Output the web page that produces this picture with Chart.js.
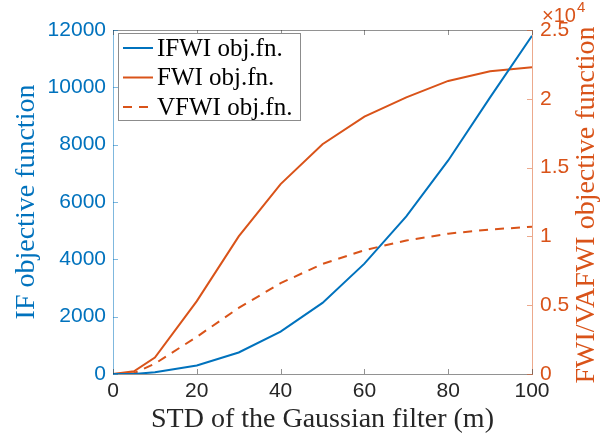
<!DOCTYPE html>
<html>
<head>
<meta charset="utf-8">
<script src="https://cdn.jsdelivr.net/npm/chart.js@4"></script>
<style>
  body { margin: 0; background: #fff; }
</style>
</head>
<body>
<canvas id="chart" width="600" height="445"></canvas>
<script>
// STD of the Gaussian filter (m)
const stdValues = [0, 5, 10, 20, 30, 40, 50, 60, 70, 80, 90, 100];
// IF objective function (left axis)
const ifwiValues = [0, 0, 60, 300, 750, 1480, 2480, 3850, 5500, 7450, 9650, 11800];
// FWI / VFWI objective function (right axis)
const fwiValues = [0, 200, 1200, 5300, 10000, 13800, 16700, 18700, 20100, 21300, 22000, 22300];
const vfwiValues = [0, 60, 750, 2700, 4800, 6600, 8000, 9000, 9700, 10200, 10500, 10700];

const blue = '#0072BD';
const orange = '#D95319';
const serif = '"Liberation Serif", "Times New Roman", serif';
const sans = '"Liberation Sans", Arial, sans-serif';
const titleSize = 28;

const toPoints = (ys) => ys.map((y, i) => ({ x: stdValues[i], y: y }));

// MATLAB style inward ticks + top box line
const insideTicks = {
  id: 'insideTicks',
  afterDatasetsDraw(chart) {
    const { ctx, chartArea: a, scales } = chart;
    const len = 5;
    ctx.save();
    ctx.lineWidth = 1;
    ctx.strokeStyle = 'rgba(38,38,38,0.5)';
    ctx.beginPath();
    ctx.moveTo(a.left, a.top + 0.5);
    ctx.lineTo(a.right, a.top + 0.5);
    scales.x.ticks.forEach(t => {
      const px = Math.round(scales.x.getPixelForValue(t.value)) + 0.5;
      ctx.moveTo(px, a.bottom);
      ctx.lineTo(px, a.bottom - len);
      ctx.moveTo(px, a.top);
      ctx.lineTo(px, a.top + len);
    });
    ctx.stroke();

    ctx.strokeStyle = 'rgba(0,114,189,0.5)';
    ctx.beginPath();
    scales.y.ticks.forEach(t => {
      const py = Math.round(scales.y.getPixelForValue(t.value)) + 0.5;
      ctx.moveTo(a.left, py);
      ctx.lineTo(a.left + len, py);
    });
    ctx.stroke();

    ctx.strokeStyle = 'rgba(217,83,25,0.5)';
    ctx.beginPath();
    scales.y1.ticks.forEach(t => {
      const py = Math.round(scales.y1.getPixelForValue(t.value)) + 0.5;
      ctx.moveTo(a.right, py);
      ctx.lineTo(a.right - len, py);
    });
    ctx.stroke();
    ctx.restore();
  }
};

// legend box inside the plot, top left
const innerLegend = {
  id: 'innerLegend',
  afterDraw(chart) {
    const { ctx, chartArea: a } = chart;
    const x0 = a.left + 5, y0 = a.top + 3, w = 182, h = 87;
    ctx.save();
    ctx.fillStyle = '#fff';
    ctx.fillRect(x0, y0, w, h);
    ctx.strokeStyle = '#8c8c8c';
    ctx.lineWidth = 1;
    ctx.strokeRect(x0 + 0.5, y0 + 0.5, w, h);
    ctx.font = '25px ' + serif;
    ctx.textBaseline = 'middle';
    chart.data.datasets.forEach((ds, i) => {
      const yy = y0 + 15 + i * 29.5;
      ctx.strokeStyle = ds.borderColor;
      ctx.lineWidth = 2;
      ctx.setLineDash(ds.borderDash || []);
      ctx.beginPath();
      ctx.moveTo(x0 + 5, yy);
      ctx.lineTo(x0 + 35, yy);
      ctx.stroke();
      ctx.setLineDash([]);
      ctx.fillStyle = '#000';
      ctx.fillText(ds.label, x0 + 39, yy + 1);
    });
    ctx.restore();
  }
};

// x10^4 multiplier and right axis title (reads bottom to top)
const rightAxisText = {
  id: 'rightAxisText',
  afterDraw(chart) {
    const { ctx, chartArea: a } = chart;
    ctx.save();
    ctx.fillStyle = orange;
    ctx.textBaseline = 'alphabetic';
    ctx.font = '20px ' + sans;
    ctx.fillText('\u00d710', a.right + 10, 22);
    const w = ctx.measureText('\u00d710').width;
    ctx.font = '15px ' + sans;
    ctx.fillText('4', a.right + 10 + w + 1, 12);

    ctx.translate(587, (a.top + a.bottom) / 2 + 3);
    ctx.rotate(-Math.PI / 2);
    ctx.textAlign = 'center';
    ctx.textBaseline = 'middle';
    ctx.font = titleSize + 'px ' + serif;
    ctx.fillText('FWI/VAFWI objective function', 0, 0);
    ctx.restore();
  }
};

new Chart(document.getElementById('chart'), {
  type: 'line',
  data: {
    datasets: [
      {
        label: 'IFWI obj.fn.',
        data: toPoints(ifwiValues),
        yAxisID: 'y',
        borderColor: blue,
        borderWidth: 2
      },
      {
        label: 'FWI obj.fn.',
        data: toPoints(fwiValues),
        yAxisID: 'y1',
        borderColor: orange,
        borderWidth: 2
      },
      {
        label: 'VFWI obj.fn.',
        data: toPoints(vfwiValues),
        yAxisID: 'y1',
        borderColor: orange,
        borderWidth: 2,
        borderDash: [9, 7]
      }
    ]
  },
  options: {
    responsive: false,
    animation: false,
    devicePixelRatio: 1,
    layout: { padding: { top: 30, left: 0, right: 0, bottom: 0 } },
    elements: { point: { radius: 0 }, line: { tension: 0, fill: false } },
    plugins: { legend: { display: false }, tooltip: { enabled: false } },
    scales: {
      x: {
        type: 'linear',
        min: 0,
        max: 100,
        ticks: { stepSize: 20, color: '#262626', font: { family: sans, size: 21 }, padding: 5, maxRotation: 0 },
        grid: { display: false, drawTicks: false },
        border: { color: 'rgba(38,38,38,0.5)', width: 1 },
        title: {
          display: true,
          text: 'STD of the Gaussian filter (m)',
          color: '#262626',
          font: { family: serif, size: titleSize, lineHeight: 1 },
          padding: { top: 0, bottom: 11 }
        },
        afterFit: (s) => { s.height = 71; }
      },
      y: {
        position: 'left',
        min: 0,
        max: 12000,
        ticks: {
          stepSize: 2000,
          color: blue,
          font: { family: sans, size: 21 },
          padding: 7,
          callback: (v) => String(v)
        },
        grid: { display: false, drawTicks: false },
        border: { color: 'rgba(0,114,189,0.5)', width: 1 },
        title: {
          display: true,
          text: 'IF objective function',
          color: blue,
          font: { family: serif, size: titleSize, lineHeight: 1 },
          padding: { top: 13, bottom: 0 }
        },
        afterFit: (s) => { s.width = 113; }
      },
      y1: {
        position: 'right',
        min: 0,
        max: 25000,
        ticks: {
          stepSize: 5000,
          color: orange,
          font: { family: sans, size: 21 },
          padding: 8,
          callback: (v) => String(v / 10000)
        },
        grid: { display: false, drawTicks: false },
        border: { color: 'rgba(217,83,25,0.5)', width: 1 },
        afterFit: (s) => { s.width = 68; }
      }
    }
  },
  plugins: [insideTicks, innerLegend, rightAxisText]
});
</script>
</body>
</html>
